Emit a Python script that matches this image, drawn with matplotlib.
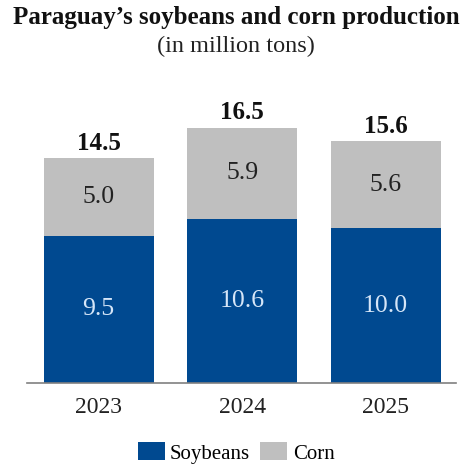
import matplotlib
matplotlib.use("Agg")
import matplotlib.pyplot as plt
import numpy

years = ["2023", "2024", "2025"]
soybeans = [9.5, 10.6, 10.0]
corn = [5.0, 5.9, 5.6]
totals = [14.5, 16.5, 15.6]

blue = "#004990"
grey = "#BFBFBF"

plt.rcParams["font.family"] = ["Liberation Serif", "DejaVu Serif"]

fig = plt.figure(figsize=(4.72, 4.67), dpi=100)
ax = fig.add_axes([0.057, 0.18, 0.909, 0.6])

x = numpy.arange(len(years))
ax.bar(x, soybeans, width=0.765, color=blue, label="Soybeans")
ax.bar(x, corn, width=0.765, bottom=soybeans, color=grey, label="Corn")

for i in range(len(years)):
    ax.text(x[i], soybeans[i] / 2, "%.1f" % soybeans[i], ha="center", va="center",
            fontsize=18.5, color="#d6e6f8")
    ax.text(x[i], soybeans[i] + corn[i] / 2, "%.1f" % corn[i], ha="center", va="center",
            fontsize=18.5, color="#222222")
    ax.text(x[i], totals[i] + 0.52, "%.1f" % totals[i], ha="center", va="baseline",
            fontsize=18, fontweight="bold", color="#111111")

ax.set_xlim(-0.5, 2.49)
ax.set_ylim(0, 18.1)
ax.set_xticks(x)
ax.set_xticklabels(years, fontsize=17, color="#222222")
ax.tick_params(axis="x", length=0, pad=10)
ax.set_yticks([])
for side in ["left", "right", "top"]:
    ax.spines[side].set_visible(False)
ax.spines["bottom"].set_color("#808080")
ax.spines["bottom"].set_linewidth(1.2)

fig.text(0.5, 0.962, "Paraguay\u2019s soybeans and corn production", ha="center", va="center",
         fontsize=18, fontweight="bold", color="#111111")
fig.text(0.5, 0.901, "(in million tons)", ha="center", va="center", fontsize=17.5, color="#222222")

fig.legend(loc="center", bbox_to_anchor=(0.5, 0.03), ncol=2, frameon=False, fontsize=15,
           handlelength=1.3, handleheight=0.95, handletextpad=0.25, columnspacing=0.5)

plt.savefig("out.png", dpi=100)
